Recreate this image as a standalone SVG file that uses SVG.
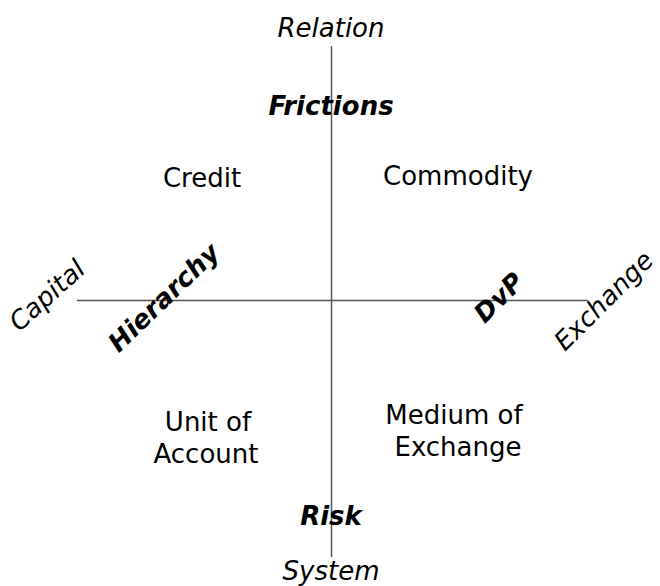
<svg xmlns="http://www.w3.org/2000/svg" width="660" height="586" viewBox="0 0 660 586">
<style>
text{font-family:"DejaVu Sans",Verdana,sans-serif;font-size:26px;fill:#000;text-anchor:middle}
.it{font-style:italic}
.bi{font-style:italic;font-weight:bold}
.ax{stroke:#555;stroke-width:1.5;fill:none}
</style>
<rect width="660" height="586" fill="#fff"/>
<g id="connectors">
<line class="ax" x1="331.5" y1="46" x2="331.5" y2="557"/>
<line class="ax" x1="77" y1="300.5" x2="588" y2="300.5"/>
</g>
<g id="relation"><text class="it" x="331" y="37">Relation</text></g>
<g id="system"><text class="it" x="331" y="580">System</text></g>
<g id="frictions"><text class="bi" x="331" y="115">Frictions</text></g>
<g id="risk"><text class="bi" x="331" y="525">Risk</text></g>
<g id="credit"><text x="202" y="187">Credit</text></g>
<g id="commodity"><text x="458" y="185">Commodity</text></g>
<g id="unit-of-account"><text x="208" y="431">Unit of</text><text x="206" y="463">Account</text></g>
<g id="medium-of-exchange"><text x="454" y="424">Medium of</text><text x="458" y="456">Exchange</text></g>
<g id="capital"><text class="it" transform="translate(53,302) rotate(-42)">Capital</text></g>
<g id="exchange"><text class="it" transform="translate(610,307) rotate(-45)">Exchange</text></g>
<g id="hierarchy"><text class="bi" transform="translate(170,304) rotate(-44)">Hierarchy</text></g>
<g id="dvp"><text class="bi" transform="translate(505,304) rotate(-45)">DvP</text></g>
</svg>
